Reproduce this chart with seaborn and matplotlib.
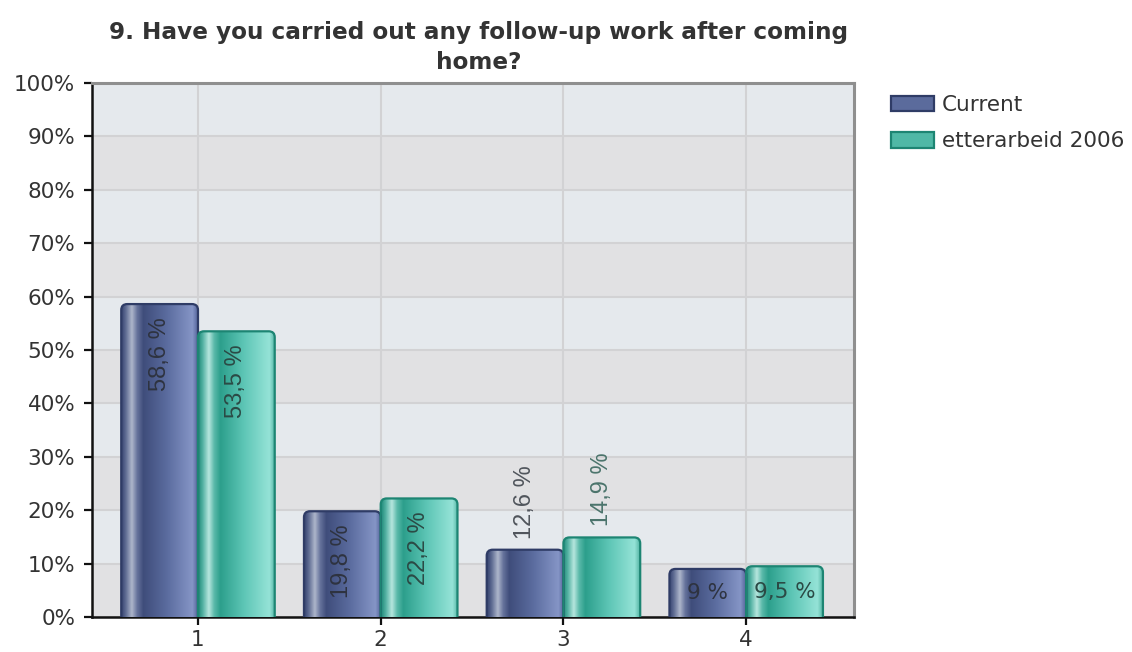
import numpy as np
import pandas as pd
import matplotlib
matplotlib.use("Agg")
import matplotlib.pyplot as plt
import seaborn as sns
from matplotlib.colors import LinearSegmentedColormap
from matplotlib.patches import FancyBboxPatch, Patch

# ---- data -------------------------------------------------------------
categories = ["1", "2", "3", "4"]
series_names = ["Current", "etterarbeid 2006"]
current = [58.6, 19.8, 12.6, 9.0]
etterarbeid_2006 = [53.5, 22.2, 14.9, 9.5]
value_labels_current = ["58,6 %", "19,8 %", "12,6 %", "9 %"]
value_labels_2006 = ["53,5 %", "22,2 %", "14,9 %", "9,5 %"]
y_ticks = [0, 10, 20, 30, 40, 50, 60, 70, 80, 90, 100]
title = "9. Have you carried out any follow-up work after coming\nhome?"

df = pd.DataFrame({
    "category": categories * 2,
    "series": [series_names[0]] * len(categories) + [series_names[1]] * len(categories),
    "value": current + etterarbeid_2006,
})

# ---- styling ----------------------------------------------------------
sns.set_theme(style="white")
plt.rcParams["font.family"] = ["DejaVu Sans"]
narrow_font = ["Liberation Sans", "DejaVu Sans"]   # for the rotated value labels
text_color = "#333333"

edge_colors = {"Current": "#2f3c66", "etterarbeid 2006": "#1d8573"}
mid_colors = {"Current": "#5b6b9c", "etterarbeid 2006": "#4fb8a6"}
cmaps = {
    "Current": LinearSegmentedColormap.from_list("navy_bar", [
        (0.00, "#34426e"), (0.06, "#5e6b92"), (0.14, "#aeb6cb"),
        (0.21, "#66739c"), (0.29, "#3f4d7b"), (0.60, "#5b6c9f"),
        (0.93, "#8595c6"), (1.00, "#55659a")]),
    "etterarbeid 2006": LinearSegmentedColormap.from_list("teal_bar", [
        (0.00, "#1f8a79"), (0.06, "#52b1a2"), (0.14, "#b6e6de"),
        (0.21, "#5ab9a9"), (0.29, "#2c9f8c"), (0.60, "#5ec6b6"),
        (0.93, "#95e3d7"), (1.00, "#56b6a6")]),
}

fig = plt.figure(figsize=(11.32, 6.52), dpi=100)
ax = fig.add_axes([92 / 1132, 1 - 617 / 652, (854 - 92) / 1132, (617 - 83) / 652])

# alternating horizontal bands behind the grid
for lo in range(0, 100, 10):
    band = "#e1e1e3" if (lo // 10) % 2 == 0 else "#e5e9ed"
    ax.axhspan(lo, lo + 10, color=band, zorder=0, lw=0)

sns.barplot(data=df, x="category", y="value", hue="series",
            hue_order=series_names, order=categories,
            palette=mid_colors, width=0.84, dodge=True,
            legend=False, ax=ax, zorder=3)

xlim = (-0.58, 3.59)
ylim = (0, 100)
ax.set_xlim(*xlim)
ax.set_ylim(*ylim)

# scale factors for rounding the bar tops in display space
ax_w_px = (854 - 92)
ax_h_px = (617 - 83)
x_per_px = (xlim[1] - xlim[0]) / ax_w_px
y_per_px = (ylim[1] - ylim[0]) / ax_h_px
radius_px = 6

gradient = np.linspace(0, 1, 256).reshape(1, -1)
containers = list(ax.containers)
for name, container in zip(series_names, containers):
    for bar in container:
        x0, w, h = bar.get_x(), bar.get_width(), bar.get_height()
        bar.set_visible(False)
        shape = FancyBboxPatch(
            (x0, -3), w, h + 3,
            boxstyle=f"round,pad=0,rounding_size={radius_px * x_per_px}",
            mutation_aspect=y_per_px / x_per_px,
            facecolor="none", edgecolor=edge_colors[name], lw=1.6, zorder=5)
        ax.add_patch(shape)
        img = ax.imshow(gradient, cmap=cmaps[name], aspect="auto",
                        extent=[x0, x0 + w, 0, h], zorder=4,
                        interpolation="bilinear")
        img.set_clip_path(shape)

ax.set_xlim(*xlim)
ax.set_ylim(*ylim)

# value labels
label_sets = [value_labels_current, value_labels_2006]
values_sets = [current, etterarbeid_2006]
outside_colors = {"Current": "#50555c", "etterarbeid 2006": "#4b746c"}
inside_colors = {"Current": "#2e3340", "etterarbeid 2006": "#2b4a45"}
for s, (name, container) in enumerate(zip(series_names, containers)):
    for j, bar in enumerate(container):
        xc = bar.get_x() + bar.get_width() / 2
        val = values_sets[s][j]
        lab = label_sets[s][j]
        if val >= 18:
            ax.text(xc, val - 2.5, lab, rotation=90, ha="center", va="top",
                    fontsize=17, fontfamily=narrow_font,
                    color=inside_colors[name], zorder=6)
        elif val >= 11:
            ax.text(xc, val + 2.1, lab, rotation=90, ha="center", va="bottom",
                    fontsize=17, fontfamily=narrow_font,
                    color=outside_colors[name], zorder=6)
        else:
            ax.text(xc, val / 2, lab, ha="center", va="center",
                    fontsize=15.5, color=inside_colors[name], zorder=6)

# grid, ticks and frame
ax.set_yticks(y_ticks)
ax.set_yticklabels([f"{t}%" for t in y_ticks])
ax.grid(True, axis="both", color="#d2d2d4", lw=1.5, zorder=1)
ax.set_axisbelow(True)
ax.set_xlabel("")
ax.set_ylabel("")
ax.tick_params(axis="both", which="major", direction="out", length=6, width=1.6,
               color="#111111", labelsize=15.5, labelcolor=text_color,
               left=True, bottom=True)
ax.tick_params(axis="y", pad=6)
ax.tick_params(axis="x", pad=3)
ax.spines["left"].set_color("#111111")
ax.spines["bottom"].set_color("#111111")
ax.spines["left"].set_linewidth(1.8)
ax.spines["bottom"].set_linewidth(1.8)
for side in ("top", "right"):
    ax.spines[side].set_color("#8f8f8f")
    ax.spines[side].set_linewidth(2.2)
    ax.spines[side].set_visible(True)

ax.set_title(title, fontsize=16.7, fontweight="bold", color=text_color,
             pad=10, linespacing=1.38, x=0.507)

handles = [Patch(facecolor=mid_colors[nm], edgecolor=edge_colors[nm], lw=1.6)
           for nm in series_names]
fig.legend(handles, series_names, loc="upper left",
           bbox_to_anchor=(891 / 1132, 1 - 95 / 652), frameon=False,
           fontsize=15.5, handlelength=2.0, handleheight=0.75,
           handletextpad=0.35, labelspacing=0.75, labelcolor=text_color,
           borderaxespad=0, borderpad=0)

fig.savefig("out.png", dpi=100)
